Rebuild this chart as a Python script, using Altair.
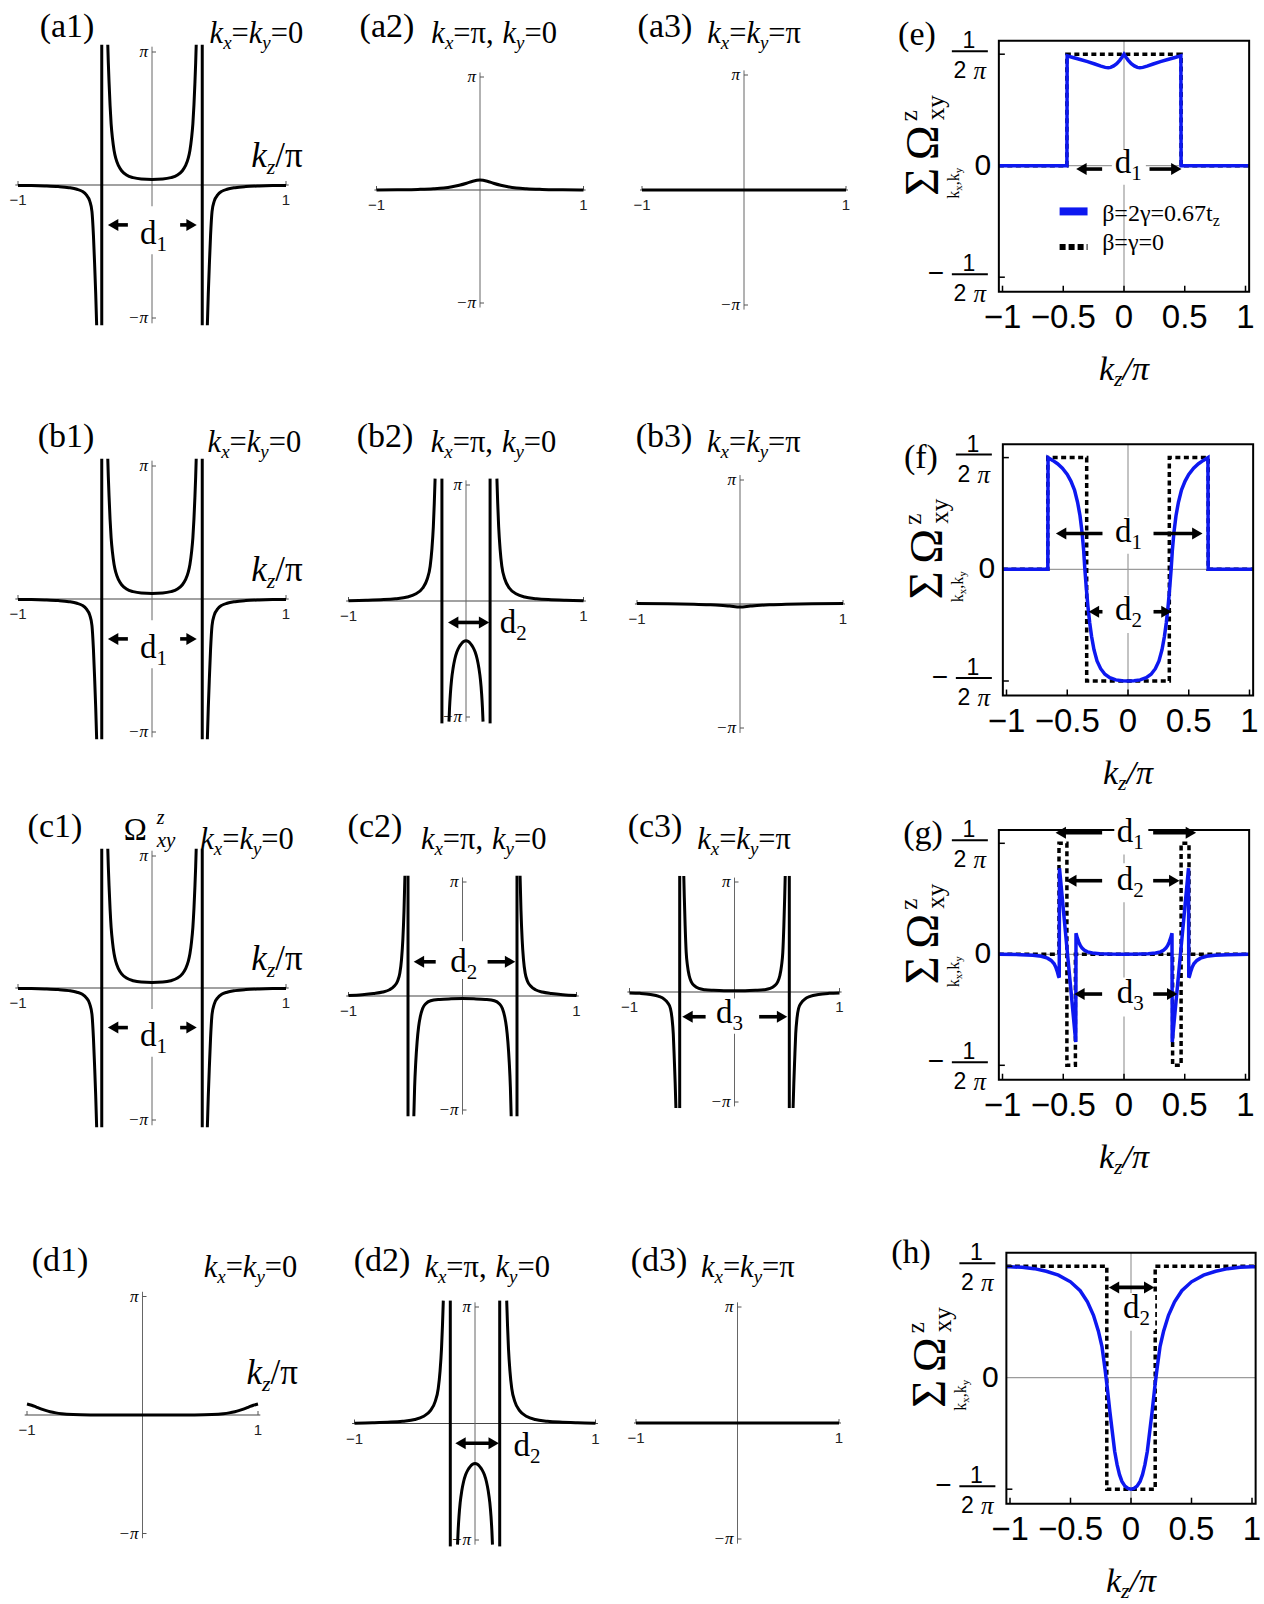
import altair as alt
import pandas as pd

SERIF = "Liberation Serif"
SANS = "Liberation Sans"
BLUE = "#0d18f0"

# ---------------------------------------------------------------------------
# Berry curvature Omega^z_xy along kz  (x: kz/pi, y: units of pi)
# ---------------------------------------------------------------------------
# kx = ky = 0 cut, used in (a1), (b1), (c1)
GAM_POLE = 0.375
GAM_OUT_L_X = [-1.0, -0.9, -0.8, -0.7, -0.62, -0.56, -0.52, -0.49, -0.465, -0.448, -0.437, -0.428, -0.42, -0.413]
GAM_OUT_L_Y = [-0.003, -0.004, -0.007, -0.012, -0.02, -0.032, -0.048, -0.075, -0.12, -0.2, -0.38, -0.6, -0.82, -1.055]
GAM_IN_X = [-0.33, -0.326, -0.32, -0.313, -0.305, -0.295, -0.283, -0.27, -0.25, -0.225, -0.19, -0.14, -0.08, 0.0,
            0.08, 0.14, 0.19, 0.225, 0.25, 0.27, 0.283, 0.295, 0.305, 0.313, 0.32, 0.326, 0.33]
GAM_IN_Y = [1.055, 0.92, 0.76, 0.6, 0.46, 0.35, 0.26, 0.2, 0.145, 0.105, 0.075, 0.055, 0.045, 0.042,
            0.045, 0.055, 0.075, 0.105, 0.145, 0.2, 0.26, 0.35, 0.46, 0.6, 0.76, 0.92, 1.055]
GAM_OUT_R_X = [0.413, 0.42, 0.428, 0.437, 0.448, 0.465, 0.49, 0.52, 0.56, 0.62, 0.7, 0.8, 0.9, 1.0]
GAM_OUT_R_Y = [-1.055, -0.82, -0.6, -0.38, -0.2, -0.12, -0.075, -0.048, -0.032, -0.02, -0.012, -0.007, -0.004, -0.003]

# (a2) kx = pi, ky = 0
A2_X = [-1.0, -0.8, -0.6, -0.45, -0.35, -0.27, -0.2, -0.13, -0.07, 0.0, 0.07, 0.13, 0.2, 0.27, 0.35, 0.45, 0.6, 0.8, 1.0]
A2_Y = [0.0, 0.002, 0.005, 0.01, 0.017, 0.028, 0.042, 0.06, 0.078, 0.088, 0.078, 0.06, 0.042, 0.028, 0.017, 0.01, 0.005, 0.002, 0.0]

# (a3), (d3) kx = ky = pi
FLAT_X = [-1.0, 1.0]
FLAT_Y = [0.0, 0.0]

# (b3) kx = ky = pi
B3_X = [-1.0, -0.7, -0.45, -0.3, -0.2, -0.1, 0.0, 0.1, 0.2, 0.3, 0.45, 0.7, 1.0]
B3_Y = [0.004, 0.002, -0.002, -0.006, -0.01, -0.017, -0.025, -0.017, -0.01, -0.006, -0.002, 0.002, 0.004]

# (b2), (d2) kx = pi, ky = 0
X2_POLE = 0.205
X2_OUT_L_X = [-1.0, -0.85, -0.7, -0.6, -0.5, -0.43, -0.37, -0.33, -0.305, -0.29, -0.278, -0.27, -0.263]
X2_OUT_L_Y = [0.003, 0.006, 0.012, 0.02, 0.034, 0.06, 0.11, 0.19, 0.3, 0.45, 0.64, 0.84, 1.055]
X2_IN_X = [-0.145, -0.14, -0.133, -0.123, -0.11, -0.095, -0.078, -0.06, -0.04, -0.02, 0.0,
           0.02, 0.04, 0.06, 0.078, 0.095, 0.11, 0.123, 0.133, 0.14, 0.145]
X2_IN_Y = [-1.04, -0.92, -0.8, -0.68, -0.58, -0.5, -0.44, -0.4, -0.37, -0.35, -0.343,
           -0.35, -0.37, -0.4, -0.44, -0.5, -0.58, -0.68, -0.8, -0.92, -1.04]
X2_OUT_R_X = [0.263, 0.27, 0.278, 0.29, 0.305, 0.33, 0.37, 0.43, 0.5, 0.6, 0.7, 0.85, 1.0]
X2_OUT_R_Y = [1.055, 0.84, 0.64, 0.45, 0.3, 0.19, 0.11, 0.06, 0.034, 0.02, 0.012, 0.006, 0.003]

# (c2) kx = pi, ky = 0
C2_POLE = 0.478
C2_OUT_L_X = [-1.0, -0.88, -0.78, -0.7, -0.64, -0.6, -0.57, -0.55, -0.535, -0.523, -0.513, -0.505]
C2_OUT_L_Y = [0.005, 0.012, 0.022, 0.035, 0.055, 0.085, 0.13, 0.2, 0.32, 0.5, 0.75, 1.055]
C2_IN_X = [-0.427, -0.42, -0.41, -0.398, -0.385, -0.37, -0.35, -0.32, -0.28, -0.2, -0.1, 0.0,
           0.1, 0.2, 0.28, 0.32, 0.35, 0.37, 0.385, 0.398, 0.41, 0.42, 0.427]
C2_IN_Y = [-1.055, -0.8, -0.58, -0.4, -0.27, -0.18, -0.11, -0.065, -0.042, -0.03, -0.025, -0.023,
           -0.025, -0.03, -0.042, -0.065, -0.11, -0.18, -0.27, -0.4, -0.58, -0.8, -1.055]
C2_OUT_R_X = [0.505, 0.513, 0.523, 0.535, 0.55, 0.57, 0.6, 0.64, 0.7, 0.78, 0.88, 1.0]
C2_OUT_R_Y = [1.055, 0.75, 0.5, 0.32, 0.2, 0.13, 0.085, 0.055, 0.035, 0.022, 0.012, 0.005]

# (c3) kx = ky = pi
C3_POLE = 0.522
C3_OUT_L_X = [-1.0, -0.9, -0.8, -0.72, -0.67, -0.635, -0.61, -0.595, -0.583, -0.573, -0.565, -0.558]
C3_OUT_L_Y = [-0.008, -0.012, -0.022, -0.04, -0.065, -0.1, -0.15, -0.24, -0.38, -0.62, -0.83, -1.055]
C3_IN_X = [-0.483, -0.478, -0.47, -0.46, -0.448, -0.432, -0.41, -0.38, -0.34, -0.28, -0.2, -0.1, 0.0,
           0.1, 0.2, 0.28, 0.34, 0.38, 0.41, 0.432, 0.448, 0.46, 0.47, 0.478, 0.483]
C3_IN_Y = [1.055, 0.86, 0.6, 0.36, 0.24, 0.15, 0.09, 0.055, 0.032, 0.02, 0.015, 0.012, 0.012,
           0.012, 0.015, 0.02, 0.032, 0.055, 0.09, 0.15, 0.24, 0.36, 0.6, 0.86, 1.055]
C3_OUT_R_X = [0.558, 0.565, 0.573, 0.583, 0.595, 0.61, 0.635, 0.67, 0.72, 0.8, 0.9, 1.0]
C3_OUT_R_Y = [-1.055, -0.83, -0.62, -0.38, -0.24, -0.15, -0.1, -0.065, -0.04, -0.022, -0.012, -0.008]

# (d1) kx = ky = 0
D1_X = [-1.0, -0.96, -0.92, -0.88, -0.84, -0.8, -0.75, -0.7, -0.6, -0.45, -0.2, 0.0,
        0.2, 0.45, 0.6, 0.7, 0.75, 0.8, 0.84, 0.88, 0.92, 0.96, 1.0]
D1_Y = [0.093, 0.082, 0.067, 0.052, 0.039, 0.028, 0.018, 0.011, 0.004, 0.001, 0.0, 0.0,
        0.0, 0.001, 0.004, 0.011, 0.018, 0.028, 0.039, 0.052, 0.067, 0.082, 0.093]

# ---------------------------------------------------------------------------
# Summed curvature over kx, ky  (y in units of 1/(2 pi))
# ---------------------------------------------------------------------------
E_BLUE_X = [-1.03, -0.47, -0.468, -0.42, -0.36, -0.3, -0.24, -0.19, -0.155, -0.13, -0.11, -0.085, -0.06, -0.035, -0.015, 0.0,
            0.015, 0.035, 0.06, 0.085, 0.11, 0.13, 0.155, 0.19, 0.24, 0.3, 0.36, 0.42, 0.468, 0.47, 1.03]
E_BLUE_Y = [0.0, 0.0, 0.985, 0.97, 0.952, 0.933, 0.912, 0.893, 0.882, 0.878, 0.882, 0.895, 0.915, 0.945, 0.975, 1.0,
            0.975, 0.945, 0.915, 0.895, 0.882, 0.878, 0.882, 0.893, 0.912, 0.933, 0.952, 0.97, 0.985, 0.0, 0.0]
E_DASH_X = [-1.03, -0.47, -0.47, 0.47, 0.47, 1.03]
E_DASH_Y = [0.0, 0.0, 1.0, 1.0, 0.0, 0.0]

F_BLUE_X = [-1.03, -0.66, -0.658, -0.62, -0.58, -0.54, -0.5, -0.47, -0.44, -0.415, -0.395, -0.378, -0.365, -0.355,
            -0.343, -0.33, -0.315, -0.3, -0.28, -0.255, -0.225, -0.19, -0.15, -0.1, -0.05, 0.0,
            0.05, 0.1, 0.15, 0.19, 0.225, 0.255, 0.28, 0.3, 0.315, 0.33, 0.343, 0.355, 0.365, 0.378,
            0.395, 0.415, 0.44, 0.47, 0.5, 0.54, 0.58, 0.62, 0.658, 0.66, 1.03]
F_BLUE_Y = [0.0, 0.0, 1.0, 0.975, 0.945, 0.905, 0.85, 0.79, 0.71, 0.6, 0.48, 0.33, 0.17, 0.0,
            -0.17, -0.33, -0.48, -0.6, -0.72, -0.82, -0.89, -0.94, -0.97, -0.99, -0.998, -1.0,
            -0.998, -0.99, -0.97, -0.94, -0.89, -0.82, -0.72, -0.6, -0.48, -0.33, -0.17, 0.0, 0.17, 0.33,
            0.48, 0.6, 0.71, 0.79, 0.85, 0.905, 0.945, 0.975, 1.0, 0.0, 0.0]
F_DASH_X = [-1.03, -0.66, -0.66, -0.34, -0.34, 0.34, 0.34, 0.66, 0.66, 1.03]
F_DASH_Y = [0.0, 0.0, 1.0, 1.0, -1.0, -1.0, 1.0, 1.0, 0.0, 0.0]

G_BLUE_X = [-1.03, -0.85, -0.75, -0.68, -0.63, -0.6, -0.575, -0.56, -0.548, -0.538, -0.533, -0.531, -0.397, -0.395,
            -0.385, -0.372, -0.36, -0.345, -0.325, -0.3, -0.26, -0.2, -0.12, 0.0,
            0.12, 0.2, 0.26, 0.3, 0.325, 0.345, 0.36, 0.372, 0.385, 0.395, 0.397, 0.531, 0.533, 0.538,
            0.548, 0.56, 0.575, 0.6, 0.63, 0.68, 0.75, 0.85, 1.03]
G_BLUE_Y = [0.0, -0.003, -0.008, -0.018, -0.035, -0.055, -0.085, -0.12, -0.16, -0.2, -0.21, 0.775, -0.79, 0.19,
            0.15, 0.11, 0.08, 0.055, 0.036, 0.022, 0.012, 0.006, 0.002, 0.0,
            0.002, 0.006, 0.012, 0.022, 0.036, 0.055, 0.08, 0.11, 0.15, 0.19, -0.79, 0.775, -0.21, -0.2,
            -0.16, -0.12, -0.085, -0.055, -0.035, -0.018, -0.008, -0.003, 0.0]
G_DASH_X = [-1.03, -0.535, -0.535, -0.47, -0.47, -0.4, -0.4, 0.4, 0.4, 0.47, 0.47, 0.535, 0.535, 1.03]
G_DASH_Y = [0.0, 0.0, 1.0, 1.0, -1.0, -1.0, 0.0, 0.0, -1.0, -1.0, 1.0, 1.0, 0.0, 0.0]

H_BLUE_X = [-1.03, -1.0, -0.9, -0.8, -0.7, -0.6, -0.5, -0.42, -0.36, -0.31, -0.27, -0.24, -0.215, -0.195,
            -0.175, -0.155, -0.135, -0.115, -0.095, -0.075, -0.05, -0.025, 0.0,
            0.025, 0.05, 0.075, 0.095, 0.115, 0.135, 0.155, 0.175, 0.195, 0.215, 0.24, 0.27, 0.31,
            0.36, 0.42, 0.5, 0.6, 0.7, 0.8, 0.9, 1.0, 1.03]
H_BLUE_Y = [0.995, 0.994, 0.99, 0.978, 0.955, 0.92, 0.86, 0.78, 0.68, 0.56, 0.42, 0.28, 0.08, -0.1,
            -0.3, -0.48, -0.66, -0.78, -0.87, -0.93, -0.972, -0.993, -1.0,
            -0.993, -0.972, -0.93, -0.87, -0.78, -0.66, -0.48, -0.3, -0.1, 0.08, 0.28, 0.42, 0.56,
            0.68, 0.78, 0.86, 0.92, 0.955, 0.978, 0.99, 0.994, 0.995]
H_DASH_X = [-1.03, -0.2, -0.2, 0.2, 0.2, 1.03]
H_DASH_Y = [1.0, 1.0, -1.0, -1.0, 1.0, 1.0]

SUM_XTICKS = [-1.0, -0.5, 0.0, 0.5, 1.0]
SUM_XLABELS = ["−1", "−0.5", "0", "0.5", "1"]

# ---------------------------------------------------------------------------
# text helpers (advance widths of the serif face, in em)
# ---------------------------------------------------------------------------
W_UP = {"(": .333, ")": .333, "a": .444, "b": .5, "c": .444, "d": .5, "e": .444, "f": .333, "g": .5,
        "h": .5, "k": .5, "t": .278, "x": .5, "y": .5, "z": .444, "=": .564, ",": .25, " ": .25,
        ".": .25, "/": .278, "π": .55, "β": .5, "γ": .45, "Ω": .77, "Σ": .62, "−": .564}
W_IT = {"k": .444, "x": .444, "y": .444, "z": .389, "π": .5, "/": .278}


def adv(text, size, italic=False):
    total = 0.0
    for ch in text:
        if italic and ch in W_IT:
            total += W_IT[ch]
        else:
            total += W_UP.get(ch, 0.5)
    return total * size


class Panel:
    """One sub-plot with its own x/y scales placed on the shared canvas."""

    def __init__(self, cx, sx, y0, sy, xd=(-1.0, 1.0), yd=(-1.0, 1.0)):
        self.cx, self.sx, self.y0, self.sy = cx, sx, y0, sy
        self.xd, self.yd = xd, yd
        self.xs = alt.Scale(domain=[xd[0], xd[1]], range=[cx + xd[0] * sx, cx + xd[1] * sx],
                            nice=False, zero=False)
        self.ys = alt.Scale(domain=[yd[0], yd[1]], range=[y0 - yd[0] * sy, y0 - yd[1] * sy],
                            nice=False, zero=False)
        self.layers = []
        self.rows = []

    def _x(self):
        return alt.X("x:Q", scale=self.xs, axis=None)

    def _y(self):
        return alt.Y("y:Q", scale=self.ys, axis=None)

    def curves(self, segs, color="black", width=3.0, dash=None, interp="monotone"):
        rows = []
        for k, (xs, ys) in enumerate(segs):
            for i, (a, b) in enumerate(zip(xs, ys)):
                rows.append({"x": a, "y": b, "seg": k, "i": i})
        style = dict(color=color, strokeWidth=width, interpolate=interp, strokeJoin="miter", strokeCap="butt")
        if dash:
            style["strokeDash"] = dash
        self.layers.append(
            alt.Chart(pd.DataFrame(rows)).mark_line(**style).encode(
                x=self._x(), y=self._y(), detail="seg:N", order="i:Q"))

    def segments(self, segs, color="black", width=1.0, dash=None, cap="butt"):
        if not segs:
            return
        df = pd.DataFrame(segs, columns=["x", "y", "x2", "y2"])
        style = dict(color=color, strokeWidth=width, strokeCap=cap)
        if dash:
            style["strokeDash"] = dash
        self.layers.append(
            alt.Chart(df).mark_rule(**style).encode(
                x=self._x(), y=self._y(), x2=alt.X2("x2"), y2=alt.Y2("y2")))

    def boxes(self, boxes, fill="white"):
        if not boxes:
            return
        df = pd.DataFrame(boxes, columns=["x", "x2", "y", "y2"])
        self.layers.append(
            alt.Chart(df).mark_rect(color=fill).encode(
                x=self._x(), y=self._y(), x2=alt.X2("x2"), y2=alt.Y2("y2")))

    def frame(self):
        df = pd.DataFrame([{"x": self.xd[0], "x2": self.xd[1], "y": self.yd[0], "y2": self.yd[1]}])
        self.layers.append(
            alt.Chart(df).mark_rect(filled=False, color="black", strokeWidth=2).encode(
                x=self._x(), y=self._y(), x2=alt.X2("x2"), y2=alt.Y2("y2")))

    def arrows(self, specs, width=3.6, head=12.0):
        if not specs:
            return
        hx = head / self.sx
        shafts, tips = [], []
        for kind, a, b, y in specs:
            if kind == "L":      # a: tip, b: tail
                shafts.append((a + 0.5 * hx, y, b, y))
                tips.append({"x": a + 0.5 * hx, "y": y, "shape": "triangle-left"})
            elif kind == "R":    # a: tail, b: tip
                shafts.append((a, y, b - 0.5 * hx, y))
                tips.append({"x": b - 0.5 * hx, "y": y, "shape": "triangle-right"})
            else:                # double headed, a: left tip, b: right tip
                shafts.append((a + 0.5 * hx, y, b - 0.5 * hx, y))
                tips.append({"x": a + 0.5 * hx, "y": y, "shape": "triangle-left"})
                tips.append({"x": b - 0.5 * hx, "y": y, "shape": "triangle-right"})
        self.segments(shafts, width=width)
        self.layers.append(
            alt.Chart(pd.DataFrame(tips)).mark_point(
                filled=True, color="black", opacity=1, size=head * head, strokeWidth=0).encode(
                x=self._x(), y=self._y(), shape=alt.Shape("shape:N", scale=None)))

    def text(self, x, y, t, size, font=SERIF, style="normal", align="center", baseline="middle",
             angle=0, color="black"):
        self.rows.append(dict(x=x, y=y, t=t, size=size, font=font, style=style, align=align,
                              baseline=baseline, angle=angle, color=color))

    def rich(self, x, y, runs, anchor="left", angle=0, font=SERIF):
        total = sum(adv(t, s, it) for t, s, it, _ in runs)
        pos = -total / 2.0 if anchor == "center" else 0.0
        for t, s, it, shift in runs:
            if angle == 0:
                xx, yy = x + pos / self.sx, y - shift / self.sy
            else:
                xx, yy = x + shift / self.sx, y + pos / self.sy
            self.text(xx, yy, t, s, font, "italic" if it else "normal", "left", "alphabetic", angle)
            pos += adv(t, s, it)

    def chart(self):
        layers = list(self.layers)
        if self.rows:
            df = pd.DataFrame(self.rows)
            keys = ["font", "style", "align", "baseline", "color"]
            for (font, style, align, baseline, color), g in df.groupby(keys, sort=False):
                sub = g[["x", "y", "t", "size", "angle"]].reset_index(drop=True)
                layers.append(
                    alt.Chart(sub).mark_text(font=font, fontStyle=style, align=align,
                                             baseline=baseline, color=color).encode(
                        x=self._x(), y=self._y(), text="t:N",
                        size=alt.Size("size:Q", scale=None),
                        angle=alt.Angle("angle:Q", scale=None)))
        return alt.layer(*layers)


def k_runs(kx, ky, size=30.5):
    sub, sh = 0.62 * size, 0.21 * size
    return [("k", size, True, 0), ("x", sub, True, sh), (kx, size, False, 0),
            ("k", size, True, 0), ("y", sub, True, sh), (ky, size, False, 0)]


KZ_UPRIGHT = [("k", 35, True, 0), ("z", 22, True, 7), ("/π", 35, False, 0)]
KZ_ITALIC = [("k", 34, True, 0), ("z", 22, True, 6), ("/", 34, True, 0), ("π", 34, True, 0)]


def d_label(P, x, y, sub):
    P.rich(x, y, [("d", 33, False, 0), (sub, 21, False, 7)])


def berry_panel(P, segs, poles, header, head_xy, krun, k_xy, boxes=(), arrows=(), dlabels=(), kz_xy=None):
    P.segments([(-1.02, 0, 1.02, 0)], color="#444444", width=1.2)
    P.segments([(0, -1.04, 0, 1.04)], color="#666666", width=1.0)
    tx, ty = 4.0 / P.sx, 4.0 / P.sy
    P.segments([(0, 1, tx, 1), (0, -1, tx, -1), (-1, 0, -1, ty), (1, 0, 1, ty)], color="#555555", width=1.0)
    P.boxes(list(boxes))
    P.curves(segs)
    P.segments([(p, -1.055, p, 1.055) for p in poles], width=3.0)
    P.arrows(list(arrows))
    for x, y, sub in dlabels:
        d_label(P, x, y, sub)
    P.text(-1, -15.0 / P.sy, "−1", 15, SANS, color="#222222")
    P.text(1, -15.0 / P.sy, "1", 15, SANS, color="#222222")
    P.text(-4.0 / P.sx, 1, "π", 17, SERIF, "italic", align="right")
    P.text(-4.0 / P.sx, -1, "−π", 17, SERIF, "italic", align="right")
    P.text(head_xy[0], head_xy[1], header, 34)
    P.rich(k_xy[0], k_xy[1], krun)
    if kz_xy:
        P.rich(kz_xy[0], kz_xy[1], KZ_UPRIGHT)


def sum_panel(P, blue, dash, label, label_xy, arrows, dlabels, boxes):
    x0, x1 = P.xd
    y0, y1 = P.yd
    P.segments([(x0, 0, x1, 0), (0, y0, 0, y1)], color="#9b9b9b", width=1.2)
    P.curves([dash], color="black", width=3.5, dash=[5, 3.5], interp="linear")
    P.curves([blue], color=BLUE, width=3.5, interp="linear")
    P.frame()
    tx, ty = 6.0 / P.sx, 6.0 / P.sy
    P.segments([(t, y0, t, y0 + ty) for t in SUM_XTICKS] + [(x0, v, x0 + tx, v) for v in (-1, 1)], width=1.5)
    P.boxes(boxes)
    P.arrows(arrows)
    for x, y, sub in dlabels:
        d_label(P, x, y, sub)
    # y tick labels: 1/(2 pi), 0, -1/(2 pi)
    P.text(x0 - 16.0 / P.sx, 0, "0", 30, SANS)
    for v in (1, -1):
        P.segments([(x0 - 47.0 / P.sx, v + 3.0 / P.sy, x0 - 11.0 / P.sx, v + 3.0 / P.sy)], width=2)
        P.text(x0 - 30.0 / P.sx, v + 13.0 / P.sy, "1", 23, SANS)
        P.text(x0 - 39.0 / P.sx, v - 17.0 / P.sy, "2", 23, SANS)
        P.text(x0 - 19.0 / P.sx, v - 17.0 / P.sy, "π", 25, SERIF, "italic")
    P.text(x0 - 63.0 / P.sx, -1 + 3.0 / P.sy, "−", 28, SANS)
    for t, lab in zip(SUM_XTICKS, SUM_XLABELS):
        P.text(t, y0 - 26.6 / P.sy, lab, 33, SANS)
    P.rich(0, y0 - 88.0 / P.sy, KZ_ITALIC, anchor="center")
    # rotated y title: sum_{kx,ky} Omega^z_xy
    P.text(x0 - 75.0 / P.sx, -16.0 / P.sy, "Σ", 48, SERIF, angle=270)
    P.text(x0 - 75.0 / P.sx, 23.0 / P.sy, "Ω", 47, SERIF, angle=270)
    P.text(x0 - 90.0 / P.sx, 50.0 / P.sy, "z", 25, SERIF, angle=270)
    P.text(x0 - 63.0 / P.sx, 58.0 / P.sy, "xy", 25, SERIF, angle=270)
    P.rich(x0 - 40.0 / P.sx, -33.0 / P.sy,
           [("k", 16, False, 0), ("x", 11, False, 3), (",k", 16, False, 0), ("y", 11, False, 3)], angle=270)
    P.text(label_xy[0], label_xy[1], label, 34)


# ---------------------------------------------------------------------------
# panel geometry on the 1264 x 1604 canvas
# ---------------------------------------------------------------------------
SUM_XD = (-1.03, 1.03)
SUM_YD = (-1.13, 1.12)

A1 = Panel(152, 134, 185, 133)
B1 = Panel(152, 134, 599, 133)
C1 = Panel(152, 134, 988, 132)
D1 = Panel(142.5, 115.5, 1415, 118.5)
A2 = Panel(480, 103.5, 190, 113)
B2 = Panel(466, 117.5, 601, 116)
C2 = Panel(462.5, 114, 996, 114)
D2 = Panel(475, 120.5, 1423.5, 116.5)
A3 = Panel(744, 102, 190, 115)
B3 = Panel(740, 103, 604, 124)
C3 = Panel(734.5, 105, 992, 110)
D3 = Panel(737.5, 101.5, 1423, 116)
E = Panel(1124, 121.5, 165.7, 111.5, SUM_XD, SUM_YD)
F = Panel(1128, 121.5, 569.3, 111.7, SUM_XD, SUM_YD)
G = Panel(1124, 121.5, 954.3, 111, SUM_XD, SUM_YD)
H = Panel(1131, 121, 1377.7, 111.5, SUM_XD, SUM_YD)

GAM_SEGS = [(GAM_OUT_L_X, GAM_OUT_L_Y), (GAM_IN_X, GAM_IN_Y), (GAM_OUT_R_X, GAM_OUT_R_Y)]
X2_SEGS = [(X2_OUT_L_X, X2_OUT_L_Y), (X2_IN_X, X2_IN_Y), (X2_OUT_R_X, X2_OUT_R_Y)]
C2_SEGS = [(C2_OUT_L_X, C2_OUT_L_Y), (C2_IN_X, C2_IN_Y), (C2_OUT_R_X, C2_OUT_R_Y)]
C3_SEGS = [(C3_OUT_L_X, C3_OUT_L_Y), (C3_IN_X, C3_IN_Y), (C3_OUT_R_X, C3_OUT_R_Y)]

GAM_ARROWS = [("L", -0.335, -0.18, -0.30), ("R", 0.21, 0.34, -0.30)]
GAM_BOX = [(-0.11, 0.14, -0.16, -0.52)]
GAM_D = [(-0.09, -0.44, "1")]

# row a
berry_panel(A1, GAM_SEGS, (-GAM_POLE, GAM_POLE), "(a1)", (-0.634, 1.188), k_runs("=", "=0"), (0.43, 1.068),
            GAM_BOX, GAM_ARROWS, GAM_D, kz_xy=(0.74, 0.138))
berry_panel(A2, [(A2_X, A2_Y)], (), "(a2)", (-0.899, 1.442), k_runs("=π, ", "=0"), (-0.47, 1.301))
berry_panel(A3, [(FLAT_X, FLAT_Y)], (), "(a3)", (-0.775, 1.417), k_runs("=", "=π"), (-0.36, 1.278))
sum_panel(E, (E_BLUE_X, E_BLUE_Y), (E_DASH_X, E_DASH_Y), "(e)", (-1.704, 1.172),
          [("L", -0.40, -0.18, -0.03), ("R", 0.21, 0.48, -0.03)], [(-0.077, -0.066, "1")],
          [(-0.1, 0.18, 0.14, -0.17)])
# legend of (e)
E.segments([(-0.53, -0.41, -0.30, -0.41)], color=BLUE, width=8)
E.segments([(-0.53, -0.73, -0.30, -0.73)], color="black", width=6, dash=[6, 3])
E.rich(-0.18, -0.50, [("β=2γ=0.67t", 24, False, 0), ("z", 16, False, 5)])
E.rich(-0.18, -0.755, [("β=γ=0", 24, False, 0)])

# row b
berry_panel(B1, GAM_SEGS, (-GAM_POLE, GAM_POLE), "(b1)", (-0.642, 1.218), k_runs("=", "=0"), (0.415, 1.105),
            GAM_BOX, GAM_ARROWS, GAM_D, kz_xy=(0.74, 0.135))
berry_panel(B2, X2_SEGS, (-X2_POLE, X2_POLE), "(b2)", (-0.689, 1.414), k_runs("=π, ", "=0"), (-0.30, 1.284),
            (), [("LR", -0.16, 0.205, -0.185)], [(0.287, -0.276, "2")])
berry_panel(B3, [(B3_X, B3_Y)], (), "(b3)", (-0.738, 1.347), k_runs("=", "=π"), (-0.32, 1.226))
sum_panel(F, (F_BLUE_X, F_BLUE_Y), (F_DASH_X, F_DASH_Y), "(f)", (-1.704, 0.997),
          [("L", -0.6, -0.21, 0.32), ("R", 0.21, 0.62, 0.32), ("L", -0.33, -0.21, -0.38), ("R", 0.21, 0.366, -0.38)],
          [(-0.108, 0.247, "1"), (-0.108, -0.454, "2")],
          [(-0.13, 0.15, 0.47, 0.14), (-0.13, 0.15, -0.23, -0.57)])

# row c
berry_panel(C1, GAM_SEGS, (-GAM_POLE, GAM_POLE), "(c1)", (-0.724, 1.22), k_runs("=", "=0"), (0.36, 1.053),
            GAM_BOX, GAM_ARROWS, GAM_D, kz_xy=(0.74, 0.136))
C1.text(-0.125, 1.19, "Ω", 31, SERIF)
C1.text(0.065, 1.285, "z", 20, SERIF, "italic")
C1.text(0.105, 1.11, "xy", 21, SERIF, "italic")
berry_panel(C2, C2_SEGS, (-C2_POLE, C2_POLE), "(c2)", (-0.768, 1.482), k_runs("=π, ", "=0"), (-0.365, 1.289),
            [(-0.13, 0.16, 0.15, 0.48)], [("L", -0.435, -0.235, 0.30), ("R", 0.22, 0.47, 0.30)],
            [(-0.107, 0.21, "2")])
berry_panel(C3, C3_SEGS, (-C3_POLE, C3_POLE), "(c3)", (-0.757, 1.5), k_runs("=", "=π"), (-0.355, 1.3),
            [(-0.2, 0.1, -0.06, -0.38)], [("L", -0.505, -0.275, -0.225), ("R", 0.235, 0.51, -0.225)],
            [(-0.176, -0.285, "3")])
sum_panel(G, (G_BLUE_X, G_BLUE_Y), (G_DASH_X, G_DASH_Y), "(g)", (-1.654, 1.084),
          [("L", -0.57, -0.18, 1.095), ("R", 0.24, 0.6, 1.095),
           ("L", -0.483, -0.18, 0.663), ("R", 0.24, 0.463, 0.663),
           ("L", -0.416, -0.18, -0.358), ("R", 0.24, 0.446, -0.358)],
          [(-0.06, 1.014, "1"), (-0.06, 0.58, "2"), (-0.06, -0.44, "3")],
          [(-0.08, 0.2, 1.25, 0.9), (-0.08, 0.2, 0.82, 0.47), (-0.08, 0.2, -0.21, -0.56)])

# row d
berry_panel(D1, [(D1_X, D1_Y)], (), "(d1)", (-0.714, 1.3), k_runs("=", "=0"), (0.53, 1.165),
            kz_xy=(0.90, 0.26))
berry_panel(D2, X2_SEGS, (-X2_POLE, X2_POLE), "(d2)", (-0.772, 1.395), k_runs("=π, ", "=0"), (-0.42, 1.258),
            (), [("LR", -0.17, 0.205, -0.17)], [(0.32, -0.28, "2")])
berry_panel(D3, [(FLAT_X, FLAT_Y)], (), "(d3)", (-0.773, 1.397), k_runs("=", "=π"), (-0.36, 1.259))
sum_panel(H, (H_BLUE_X, H_BLUE_Y), (H_DASH_X, H_DASH_Y), "(h)", (-1.818, 1.118),
          [("LR", -0.19, 0.2, 0.81)], [(-0.066, 0.533, "2")], [(-0.09, 0.2, 0.76, 0.42)])

PANELS = [A1, A2, A3, E, B1, B2, B3, F, C1, C2, C3, G, D1, D2, D3, H]

chart = alt.layer(*[p.chart() for p in PANELS]).resolve_scale(
    x="independent", y="independent"
).properties(
    width=1264, height=1604,
    autosize=alt.AutoSizeParams(type="none"),
    padding=0,
    background="white",
).configure_view(stroke=None)

chart.save("out.html", embed_options={"renderer": "svg", "actions": False})
